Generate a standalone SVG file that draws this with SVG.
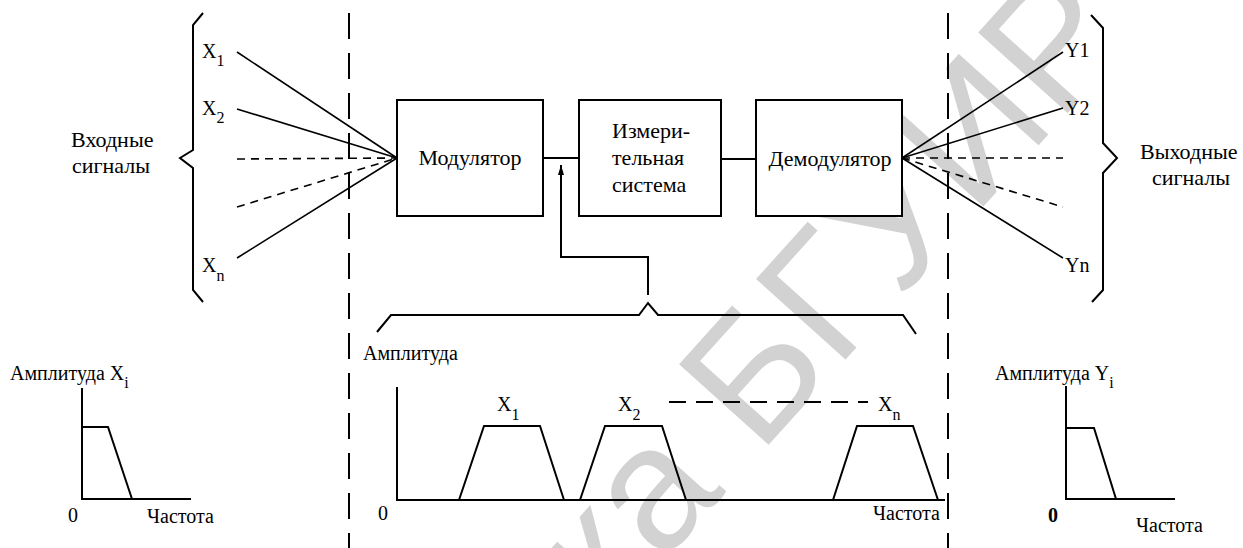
<svg xmlns="http://www.w3.org/2000/svg" width="1243" height="548" viewBox="0 0 1243 548">
<style>
.lbl{font-family:'Liberation Serif','Times New Roman',serif;font-size:22px;fill:#000}
.sm{font-family:'Liberation Serif','Times New Roman',serif;font-size:20px;fill:#000}
.sub{font-size:16px}
.box{fill:#fff;stroke:#000;stroke-width:2}
.ln{fill:none;stroke:#000;stroke-width:1.6}
.th{fill:none;stroke:#000;stroke-width:2}
.dsh{fill:none;stroke:#000;stroke-width:1.6;stroke-dasharray:8 6}
.vd{fill:none;stroke:#000;stroke-width:2;stroke-dasharray:26 14}
.wm{font-family:'Liberation Sans',Arial,sans-serif;font-size:175px;fill:#d2d2d2}
</style>
<defs>
<marker id="arr" markerWidth="10" markerHeight="6" refX="10" refY="3" orient="auto" markerUnits="userSpaceOnUse">
<path d="M0,0 L10,3 L0,6 Z" fill="#000"/>
</marker>
</defs>
<rect width="1243" height="548" fill="#fff"/>
<text class="wm" x="1136" y="37" text-anchor="end" transform="rotate(-48 1136 37)">Библиотека БГУИР</text>

<g id="dividers">
<line class="vd" x1="349" y1="13" x2="349" y2="548"/>
<line class="vd" x1="948" y1="13" x2="948" y2="548"/>
</g>

<g id="inputs">
<path class="th" d="M203,13 L193,25 L193,150 L180,158 L193,168 L193,290 L203,302"/>
<text class="lbl" x="71" y="147">Входные</text>
<text class="lbl" x="72" y="173">сигналы</text>
<text class="sm" x="202" y="58">X<tspan class="sub" dy="8">1</tspan></text>
<text class="sm" x="202" y="115">X<tspan class="sub" dy="8">2</tspan></text>
<text class="sm" x="202" y="272">X<tspan class="sub" dy="9">n</tspan></text>
</g>

<g id="outputs">
<path class="th" d="M1091,15 L1103,28 L1103,143 L1117,158 L1103,173 L1103,290 L1092,302"/>
<text class="lbl" x="1140" y="159">Выходные</text>
<text class="lbl" x="1152" y="185">сигналы</text>
<text class="sm" x="1065" y="57">Y1</text>
<text class="sm" x="1065" y="115">Y2</text>
<text class="sm" x="1065" y="272">Yn</text>
</g>

<g id="modulator">
<rect class="box" x="397" y="100" width="146" height="116"/>
<text class="lbl" x="470" y="165" text-anchor="middle">Модулятор</text>
</g>
<g id="measurement">
<rect class="box" x="579" y="100" width="142" height="116"/>
<text class="lbl" x="612" y="138">Измери-</text>
<text class="lbl" x="612" y="165">тельная</text>
<text class="lbl" x="612" y="192">система</text>
</g>
<g id="demodulator">
<rect class="box" x="756" y="100" width="146" height="116"/>
<text class="lbl" x="830" y="166" text-anchor="middle">Демодулятор</text>
</g>

<g id="connectors">
<line class="ln" x1="237" y1="52" x2="397" y2="158"/>
<line class="ln" x1="237" y1="109" x2="397" y2="158"/>
<line class="dsh" x1="237" y1="159" x2="397" y2="158"/>
<line class="dsh" x1="237" y1="207" x2="397" y2="158"/>
<line class="ln" x1="237" y1="258" x2="397" y2="158"/>
<line class="th" x1="543" y1="158" x2="579" y2="158"/>
<line class="th" x1="721" y1="159" x2="756" y2="159"/>
<line class="ln" x1="902" y1="158" x2="1063" y2="52"/>
<line class="ln" x1="902" y1="158" x2="1063" y2="108"/>
<line class="dsh" x1="902" y1="158" x2="1063" y2="158"/>
<line class="dsh" x1="902" y1="158" x2="1063" y2="207"/>
<line class="ln" x1="902" y1="158" x2="1063" y2="258"/>
<path class="th" d="M648,295 L648,257 L561,257 L561,165" marker-end="url(#arr)"/>
</g>

<g id="spectrum-brace">
<path class="th" d="M377,332 L391,315 L639,315 L648,303 L658,315 L903,315 L916,334"/>
</g>

<g id="input-spectrum">
<text class="sm" x="10" y="380">Амплитуда X<tspan class="sub" dy="8">i</tspan></text>
<path class="th" d="M82,388 L82,499 L191,499"/>
<path class="th" d="M82,427 L108,427 L132,499"/>
<text class="sm" x="68" y="522">0</text>
<text class="sm" x="147" y="523">Частота</text>
</g>

<g id="multiplex-spectrum">
<text class="sm" x="363" y="360">Амплитуда</text>
<path class="th" d="M397,387 L397,500 L945,500"/>
<path class="th" d="M459,500 L484,426 L540,426 L564,500"/>
<path class="th" d="M580,500 L605,426 L662,426 L686,500"/>
<path class="th" d="M833,500 L857,426 L913,426 L938,500"/>
<line class="th" x1="669" y1="402" x2="868" y2="402" stroke-dasharray="17 10"/>
<text class="sm" x="497" y="411">X<tspan class="sub" dy="9">1</tspan></text>
<text class="sm" x="618" y="411">X<tspan class="sub" dy="9">2</tspan></text>
<text class="sm" x="878" y="411">X<tspan class="sub" dy="9">n</tspan></text>
<text class="sm" x="378" y="520">0</text>
<text class="sm" x="873" y="520">Частота</text>
</g>

<g id="output-spectrum">
<text class="sm" x="995" y="380">Амплитуда Y<tspan class="sub" dy="8">i</tspan></text>
<path class="th" d="M1066,386 L1066,499 L1175,499"/>
<path class="th" d="M1066,428 L1094,428 L1116,499"/>
<text class="sm" x="1048" y="522" font-weight="bold">0</text>
<text class="sm" x="1136" y="532">Частота</text>
</g>
</svg>
